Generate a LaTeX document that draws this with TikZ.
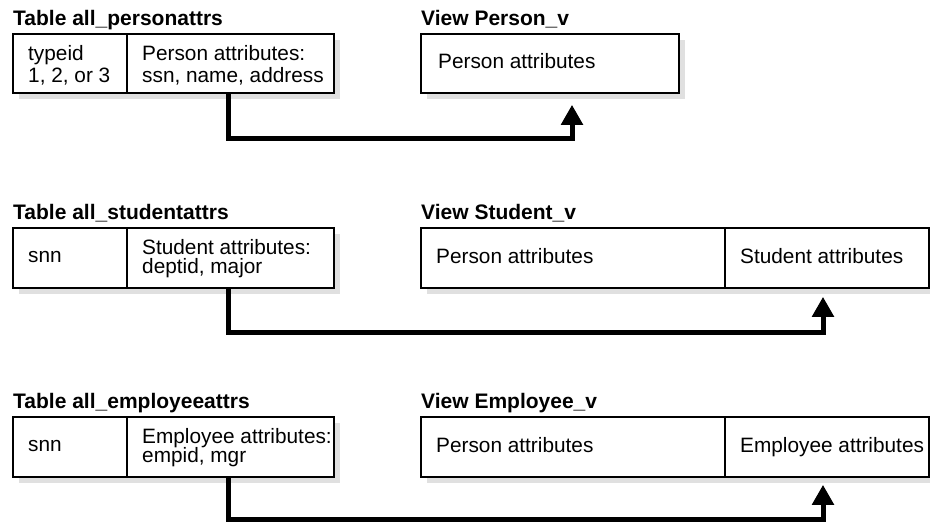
\documentclass[tikz,border=0pt]{standalone}
\usepackage{fontspec}
\setmainfont{Liberation Sans}
\usetikzlibrary{arrows.meta,shadows}
\begin{document}
\begin{tikzpicture}[x=1pt,y=-1pt,
  cell/.style={draw,line width=1.8pt,fill=white,rectangle,inner sep=0pt,
    anchor=north west,
    drop shadow={shadow xshift=6pt,shadow yshift=-6pt,fill=black!12,opacity=1}},
  lbl/.style={anchor=base west,inner sep=0pt,font=\fontsize{20.8}{24}\selectfont},
  ttl/.style={anchor=base west,inner sep=0pt,font=\fontsize{21}{24}\selectfont\bfseries},
  conn/.style={line width=5pt,-{Triangle[width=21pt,length=20pt]}}]
\useasboundingbox (0,0) rectangle (930,523);

% ---- Person ----
\node[ttl] (tp) at (13,25) {Table all\_personattrs};
\node[ttl] (vp) at (421,25) {View Person\_v};
\node[cell,minimum width=114pt,minimum height=59pt] (pa) at (12,33) {};
\node[cell,minimum width=207pt,minimum height=59pt] (pb) at (126,33) {};
\node[cell,minimum width=258pt,minimum height=59pt] (pv) at (420,33) {};
\node[lbl] (pa1) at (28,60) {typeid};
\node[lbl] (pa2) at (28,82) {1, 2, or 3};
\node[lbl] (pb1) at (142,60) {Person attributes:};
\node[lbl] (pb2) at (142,82) {ssn, name, address};
\node[lbl] (pv1) at (438,68) {Person attributes};
\draw[conn] ([xshift=102pt]pb.south west) -- ++(0,45)
  -| ([xshift=152pt,yshift=-11pt]pv.south west);

% ---- Student ----
\node[ttl] (ts) at (13,219) {Table all\_studentattrs};
\node[ttl] (vs) at (421,219) {View Student\_v};
\node[cell,minimum width=114pt,minimum height=60pt] (sa) at (12,227) {};
\node[cell,minimum width=207pt,minimum height=60pt] (sb) at (126,227) {};
\node[cell,minimum width=304pt,minimum height=60pt] (sv1) at (420,227) {};
\node[cell,minimum width=204pt,minimum height=60pt] (sv2) at (724,227) {};
\node[lbl] (sa1) at (28,262) {snn};
\node[lbl] (sb1) at (142,254) {Student attributes:};
\node[lbl] (sb2) at (142,273) {deptid, major};
\node[lbl] (sv1t) at (436,263) {Person attributes};
\node[lbl] (sv2t) at (740,263) {Student attributes};
\draw[conn] ([xshift=102pt]sb.south west) -- ++(0,44)
  -| ([xshift=99pt,yshift=-8pt]sv2.south west);

% ---- Employee ----
\node[ttl] (te) at (13,408) {Table all\_employeeattrs};
\node[ttl] (ve) at (421,408) {View Employee\_v};
\node[cell,minimum width=114pt,minimum height=60pt] (ea) at (12,416) {};
\node[cell,minimum width=207pt,minimum height=60pt] (eb) at (126,416) {};
\node[cell,minimum width=304pt,minimum height=60pt] (ev1) at (420,416) {};
\node[cell,minimum width=204pt,minimum height=60pt] (ev2) at (724,416) {};
\node[lbl] (ea1) at (28,451) {snn};
\node[lbl] (eb1) at (142,443) {Employee attributes:};
\node[lbl] (eb2) at (142,462) {empid, mgr};
\node[lbl] (ev1t) at (436,452) {Person attributes};
\node[lbl] (ev2t) at (740,452) {Employee attributes};
\draw[conn] ([xshift=102pt]eb.south west) -- ++(0,42)
  -| ([xshift=99pt,yshift=-7pt]ev2.south west);
\end{tikzpicture}
\end{document}
